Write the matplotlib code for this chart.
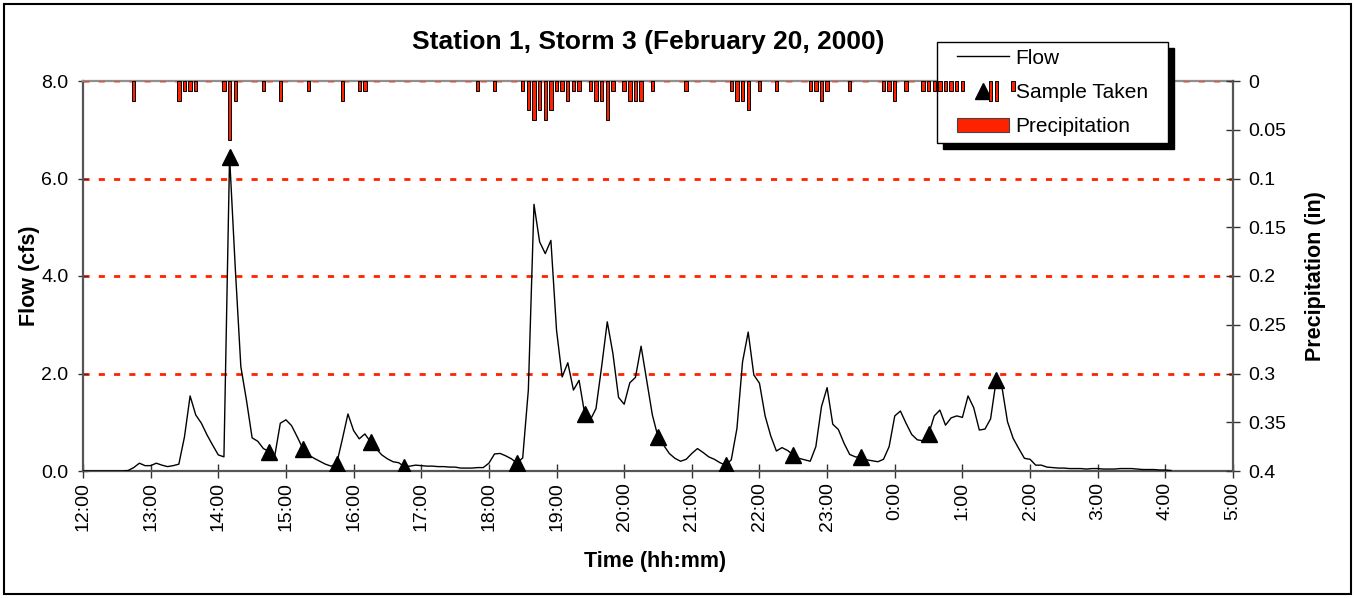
import matplotlib.pyplot as plt
import numpy as np
from matplotlib.lines import Line2D
from matplotlib.patches import Patch, Rectangle

plt.rcParams['font.family'] = ['Liberation Sans', 'DejaVu Sans']

# flow record, one value every 5 minutes starting at 12:00
step_min = 5
flow_cfs = [
    0, 0, 0, 0, 0, 0, 0, 0, 0.01, 0.07, 0.16, 0.11,          # 12:00-12:55
    0.11, 0.16, 0.12, 0.09, 0.11, 0.14, 0.70, 1.54, 1.15, 0.98, 0.74, 0.53,  # 13:00
    0.33, 0.29, 6.45, 4.19, 2.14, 1.45, 0.68, 0.61, 0.46, 0.40, 0.30, 0.98,  # 14:00
    1.05, 0.93, 0.70, 0.46, 0.33, 0.26, 0.20, 0.14, 0.10, 0.15, 0.65, 1.17,  # 15:00
    0.83, 0.66, 0.76, 0.60, 0.46, 0.33, 0.25, 0.19, 0.17, 0.09, 0.10, 0.12,  # 16:00
    0.11, 0.10, 0.10, 0.09, 0.09, 0.08, 0.08, 0.06, 0.06, 0.06, 0.07, 0.07,  # 17:00
    0.16, 0.35, 0.36, 0.31, 0.25, 0.16, 0.27, 1.66, 5.47, 4.70, 4.46, 4.73,  # 18:00
    2.89, 1.93, 2.22, 1.66, 1.86, 1.17, 1.05, 1.28, 2.14, 3.06, 2.41, 1.51,  # 19:00
    1.37, 1.81, 1.92, 2.56, 1.86, 1.15, 0.70, 0.53, 0.36, 0.26, 0.20, 0.24,  # 20:00
    0.36, 0.46, 0.38, 0.29, 0.24, 0.17, 0.12, 0.23, 0.87, 2.24, 2.85, 1.97,  # 21:00
    1.80, 1.13, 0.72, 0.41, 0.48, 0.42, 0.33, 0.26, 0.23, 0.20, 0.50, 1.32,  # 22:00
    1.71, 0.96, 0.85, 0.57, 0.34, 0.29, 0.28, 0.23, 0.21, 0.19, 0.24, 0.50,  # 23:00
    1.13, 1.23, 0.98, 0.75, 0.64, 0.62, 0.75, 1.13, 1.25, 0.94, 1.09, 1.13,  # 0:00
    1.10, 1.54, 1.30, 0.84, 0.86, 1.07, 1.87, 1.73, 1.01, 0.67, 0.46, 0.26,  # 1:00
    0.24, 0.12, 0.12, 0.08, 0.07, 0.06, 0.06, 0.05, 0.05, 0.05, 0.04, 0.05,  # 2:00
    0.05, 0.04, 0.04, 0.04, 0.05, 0.05, 0.05, 0.04, 0.03, 0.03, 0.03, 0.02,  # 3:00
    0.02, 0.01,                                                              # 4:00
]

sample_times = ["14:10", "14:45", "15:15", "15:45", "16:15", "16:45", "18:25",
                "19:25", "20:30", "21:30", "22:30", "23:30", "0:30", "1:30"]
sample_flow = [6.45, 0.40, 0.46, 0.15, 0.60, 0.09, 0.16,
               1.17, 0.70, 0.12, 0.33, 0.28, 0.75, 1.87]

precip_times = ["12:45", "13:25", "13:30", "13:35", "13:40", "14:05", "14:10", "14:15",
                "14:40", "14:55", "15:20", "15:50", "16:05", "16:10", "17:50", "18:05",
                "18:30", "18:35", "18:40", "18:45", "18:50", "18:55", "19:00", "19:05",
                "19:10", "19:15", "19:20", "19:30", "19:35", "19:40", "19:45", "19:50",
                "20:00", "20:05", "20:10", "20:15", "20:25", "20:55", "21:35", "21:40",
                "21:45", "21:50", "22:00", "22:15", "22:45", "22:50", "22:55", "23:00",
                "23:20", "23:50", "23:55", "0:00", "0:10", "0:25", "0:30", "0:35",
                "0:40", "0:45", "0:50", "0:55", "1:00", "1:25", "1:30", "1:45"]
precip_in = [0.02, 0.02, 0.01, 0.01, 0.01, 0.01, 0.06, 0.02,
             0.01, 0.02, 0.01, 0.02, 0.01, 0.01, 0.01, 0.01,
             0.01, 0.03, 0.04, 0.03, 0.04, 0.03, 0.01, 0.01,
             0.02, 0.01, 0.01, 0.01, 0.02, 0.02, 0.04, 0.01,
             0.01, 0.02, 0.02, 0.02, 0.01, 0.01, 0.01, 0.02,
             0.02, 0.03, 0.01, 0.01, 0.01, 0.01, 0.02, 0.01,
             0.01, 0.01, 0.01, 0.02, 0.01, 0.01, 0.01, 0.01,
             0.01, 0.01, 0.01, 0.01, 0.01, 0.02, 0.02, 0.01]

hour_labels = ["12:00", "13:00", "14:00", "15:00", "16:00", "17:00", "18:00",
               "19:00", "20:00", "21:00", "22:00", "23:00", "0:00", "1:00",
               "2:00", "3:00", "4:00", "5:00"]
flow_ticks = [0, 2, 4, 6, 8]
precip_ticks = [0, 0.05, 0.1, 0.15, 0.2, 0.25, 0.3, 0.35, 0.4]


def hrs(t):
    # hours after 12:00, times after midnight roll over
    h, m = map(int, t.split(":"))
    if h < 12:
        h += 24
    return h - 12 + m / 60


W, H = 1355, 598
fig = plt.figure(figsize=(W / 100, H / 100), dpi=100)
ax = fig.add_axes([83 / W, 127 / H, 1150 / W, 390 / H])
ax2 = ax.twinx()

flow_x = np.arange(len(flow_cfs)) * step_min / 60
ax.plot(flow_x, flow_cfs, color='black', lw=1.0, zorder=4)
ax.plot([hrs(t) for t in sample_times], sample_flow, ls='none', marker='^',
        ms=11.3, color='black', zorder=5)

red = '#ff2200'
for lv in flow_ticks[1:-1]:
    ax.axhline(lv, color=red, lw=2.0, ls=(0, (2.2, 3.3)), zorder=1)
ax.axhline(8, color=red, lw=2.0, ls=(0, (2.2, 3.3)), alpha=0.45, zorder=3)

ax.set_xlim(0, 17)
ax.set_ylim(0, 8)
ax.set_xticks(range(len(hour_labels)))
ax.set_xticklabels(hour_labels, rotation=90, fontsize=14)
ax.set_yticks(flow_ticks)
ax.set_yticklabels(['%.1f' % v for v in flow_ticks], fontsize=14)
ax.tick_params(axis='x', direction='inout', length=10, width=1, color='#333333', pad=3)
ax.tick_params(axis='y', direction='inout', length=7, width=1, color='#333333', pad=7)

ax.spines['top'].set_color('#909090')
ax.spines['top'].set_linewidth(1.6)
for s in ['left', 'bottom']:
    ax.spines[s].set_color('#555555')
    ax.spines[s].set_linewidth(1.6)
ax.spines['right'].set_visible(False)

ax2.bar([hrs(t) for t in precip_times], precip_in, width=0.05,
        color=red, edgecolor='black', linewidth=0.7)
ax2.set_ylim(0.4, 0)
ax2.set_yticks(precip_ticks)
ax2.set_yticklabels(['%g' % v for v in precip_ticks], fontsize=14)
ax2.tick_params(axis='y', direction='inout', length=10, width=1, color='#333333', pad=6)
for s in ['top', 'left', 'bottom']:
    ax2.spines[s].set_visible(False)
ax2.spines['right'].set_color('#555555')
ax2.spines['right'].set_linewidth(1.6)

# legend box with hard shadow, drawn inside ax so the bars sit on top
bx, by, bw, bh = 937, 42, 231, 101
ax.add_artist(Rectangle(((bx + 6) / W, 1 - (by + bh + 6) / H), bw / W, bh / H,
                        transform=fig.transFigure, facecolor='black',
                        edgecolor='black', zorder=8, clip_on=False))
ax.add_artist(Rectangle((bx / W, 1 - (by + bh) / H), bw / W, bh / H,
                        transform=fig.transFigure, facecolor='white',
                        edgecolor='black', lw=1, zorder=9, clip_on=False))
handles = [Line2D([], [], color='black', lw=1.0),
           Line2D([], [], ls='none', marker='^', ms=11.3, color='black'),
           Patch(facecolor=red, edgecolor='#444444', lw=0.8)]
leg = ax.legend(handles, ['Flow', 'Sample Taken', 'Precipitation'],
                loc='center', bbox_to_anchor=((bx + bw / 2) / W, 1 - (by + bh / 2) / H),
                bbox_transform=fig.transFigure, frameon=False, fontsize=15,
                handlelength=2.5, handletextpad=0.3, labelspacing=0.74)
leg.set_zorder(10)

fig.text(648 / W, 1 - 42 / H, 'Station 1, Storm 3 (February 20, 2000)',
         ha='center', va='center', fontsize=19, fontweight='bold')
fig.text(30 / W, 1 - 276 / H, 'Flow (cfs)', rotation=90, ha='center',
         va='center', fontsize=15.5, fontweight='bold')
fig.text(1316 / W, 1 - 276 / H, 'Precipitation (in)', rotation=90, ha='center',
         va='center', fontsize=15.5, fontweight='bold')
fig.text(655 / W, 1 - 562 / H, 'Time (hh:mm)', ha='center', va='center',
         fontsize=15.5, fontweight='bold')

fig.patches.append(Rectangle((4 / W, 4 / H), (W - 8) / W, (H - 8) / H, fill=False,
                             edgecolor='black', lw=1.5, transform=fig.transFigure))

fig.savefig('out.png', dpi=100)
